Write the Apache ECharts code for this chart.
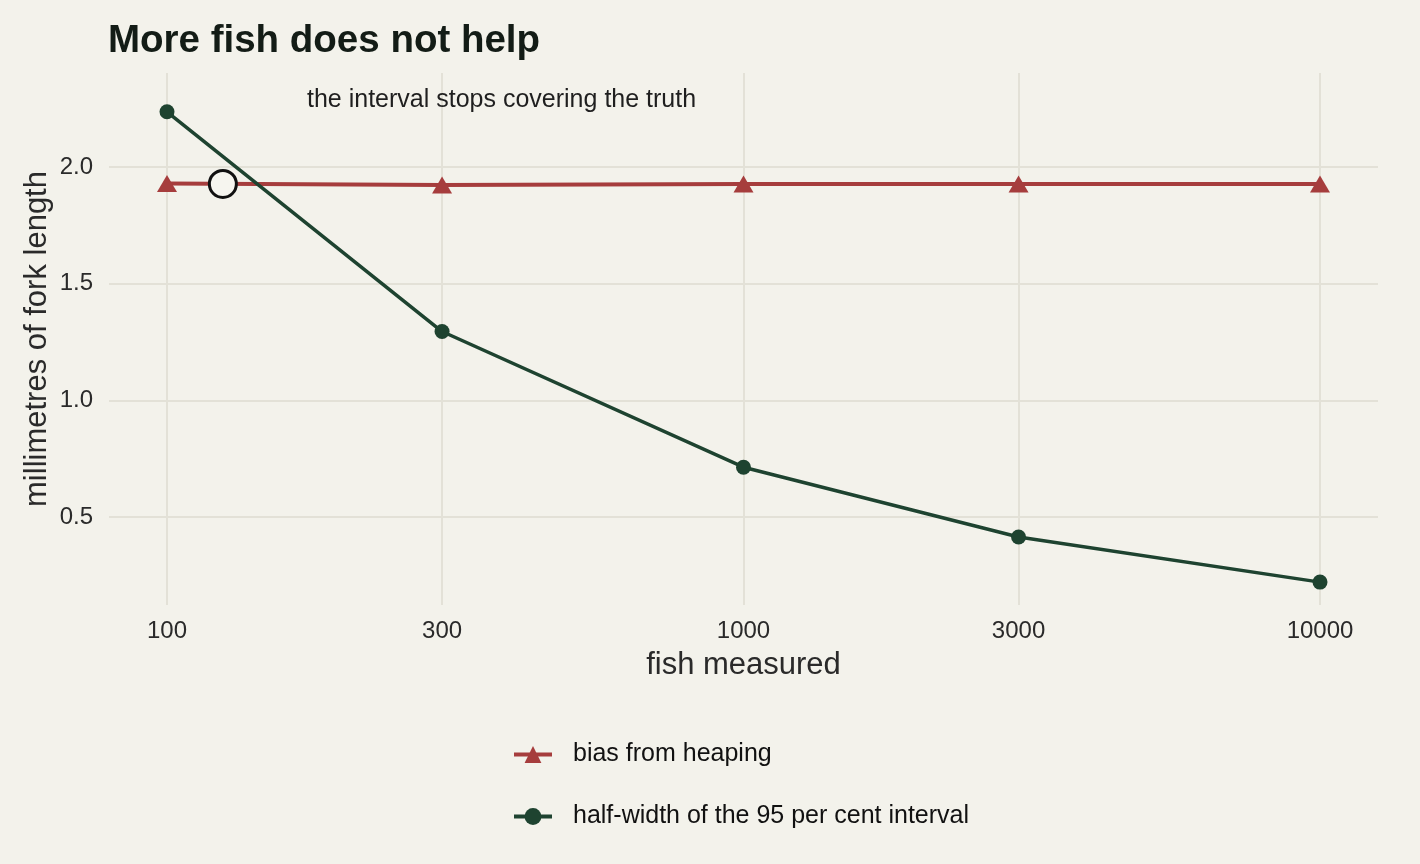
<!DOCTYPE html>
<html>
<head>
<meta charset="utf-8">
<title>More fish does not help</title>
<script src="https://cdn.jsdelivr.net/npm/echarts@6/dist/echarts.min.js"></script>
<style>
  html, body { margin: 0; padding: 0; background: #f3f2eb; }
  #chart_one { width: 1420px; height: 864px; }
</style>
</head>
<body>
<div id="chart_one"></div>
<script>
// values
var fishMeasured = [100, 300, 1000, 3000, 10000];
var biasFromHeaping = [1.929, 1.922, 1.927, 1.927, 1.927];
var halfWidth95 = [2.236, 1.295, 0.714, 0.415, 0.222];
var xTicks = [100, 300, 1000, 3000, 10000];
var yTicks = [0.5, 1.0, 1.5, 2.0];
var crossMark = [125, 1.927];

var theDom = document.getElementById('chart_one');
var myChart = echarts.init(theDom);

// x is drawn on log10 of fish counts
function lg(v) { return Math.log10(v); }
function pairs(ys) {
  return fishMeasured.map(function (n, i) { return [lg(n), ys[i]]; });
}

var red = '#a63d3d';
var green = '#1e4330';
var gridColor = '#e3e1d7';
var font = 'Liberation Sans, Arial, Helvetica, sans-serif';

var option = {
  backgroundColor: '#f3f2eb',
  animation: false,
  title: {
    text: 'More fish does not help',
    left: 108,
    top: 22,
    padding: 0,
    textStyle: { fontSize: 38.5, fontWeight: 'bold', color: '#131c16', fontFamily: font }
  },
  graphic: [{
    type: 'text',
    left: 307,
    top: 88,
    z: 100,
    style: { text: 'the interval stops covering the truth', fontSize: 25, fill: '#1f1f1f', fontFamily: font }
  }],
  legend: {
    orient: 'vertical',
    left: 512,
    top: 742,
    padding: 0,
    itemWidth: 38,
    itemHeight: 21,
    itemGap: 37,
    lineStyle: { width: 4 },
    textStyle: { fontSize: 25, color: '#111', fontFamily: font, padding: [0, 0, 0, 16] },
    data: ['bias from heaping', 'half-width of the 95 per cent interval']
  },
  grid: { left: 109, right: 42, top: 73, bottom: 259, containLabel: false },
  xAxis: {
    type: 'value',
    min: 1.8994,
    max: 4.1006,
    name: 'fish measured',
    nameLocation: 'middle',
    nameGap: 45,
    nameMoveOverlap: false,
    nameTextStyle: { fontSize: 31, color: '#2a2a2a', fontFamily: font },
    axisLine: { show: false },
    axisTick: { show: false, customValues: xTicks.map(lg) },
    axisLabel: {
      customValues: xTicks.map(lg),
      margin: 14,
      fontSize: 24,
      color: '#2a2a2a',
      fontFamily: font,
      formatter: function (v) { return String(Math.round(Math.pow(10, v))); }
    },
    splitLine: { show: true, lineStyle: { color: gridColor, width: 2 } }
  },
  yAxis: {
    type: 'value',
    min: 0.124,
    max: 2.402,
    name: 'millimetres of fork length',
    nameLocation: 'middle',
    nameGap: 56,
    nameMoveOverlap: false,
    nameTextStyle: { fontSize: 31, color: '#2a2a2a', fontFamily: font },
    axisLine: { show: false },
    axisTick: { show: false, customValues: yTicks },
    axisLabel: {
      customValues: yTicks,
      margin: 16,
      fontSize: 24,
      color: '#2a2a2a',
      fontFamily: font,
      formatter: function (v) { return v.toFixed(1); }
    },
    splitLine: { show: true, lineStyle: { color: gridColor, width: 2 } }
  },
  series: [
    {
      name: 'bias from heaping',
      type: 'line',
      data: pairs(biasFromHeaping),
      symbol: 'triangle',
      symbolSize: [20, 17],
      itemStyle: { color: red },
      lineStyle: { color: red, width: 4 },
      z: 3
    },
    {
      name: 'half-width of the 95 per cent interval',
      type: 'line',
      data: pairs(halfWidth95),
      symbol: 'circle',
      symbolSize: 15,
      itemStyle: { color: green },
      lineStyle: { color: green, width: 3.5 },
      z: 4
    },
    {
      name: 'crossing',
      type: 'scatter',
      data: [[lg(crossMark[0]), crossMark[1]]],
      symbol: 'circle',
      symbolSize: 27,
      itemStyle: { color: '#f6f5ef', borderColor: '#111111', borderWidth: 3, opacity: 1 },
      silent: true,
      z: 5
    }
  ]
};

myChart.setOption(option);
window.onresize = function () {
  myChart.resize();
};
</script>
</body>
</html>
